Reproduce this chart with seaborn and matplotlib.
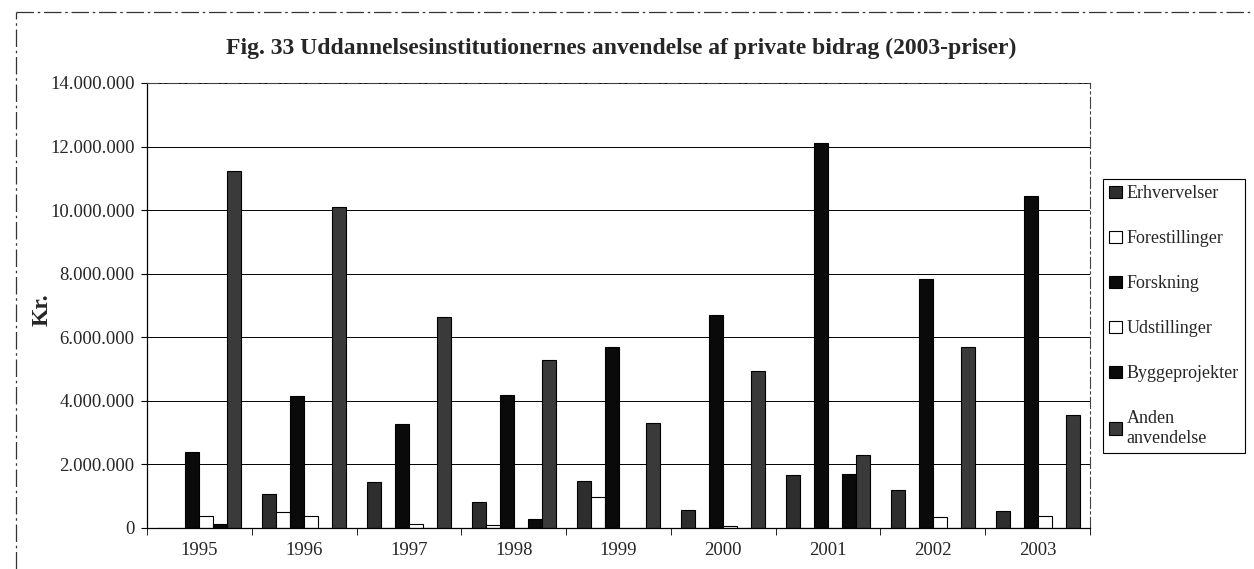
import seaborn as sns
import matplotlib.pyplot as plt
import matplotlib.ticker as mticker
from matplotlib.lines import Line2D
import pandas as pd
import numpy as np

# Values (kroner, 2003 prices)
years = ["1995", "1996", "1997", "1998", "1999", "2000", "2001", "2002", "2003"]
categories = ["Erhvervelser", "Forestillinger", "Forskning", "Udstillinger",
              "Byggeprojekter", "Anden\nanvendelse"]
erhvervelser = [0, 1060000, 1450000, 830000, 1480000, 560000, 1680000, 1190000, 530000]
forestillinger = [0, 500000, 0, 80000, 980000, 0, 0, 0, 0]
forskning = [2390000, 4160000, 3270000, 4200000, 5700000, 6710000, 12110000, 7830000, 10460000]
udstillinger = [380000, 370000, 120000, 0, 0, 60000, 0, 340000, 390000]
byggeprojekter = [120000, 0, 0, 270000, 0, 0, 1710000, 0, 0]
anden = [11220000, 10100000, 6650000, 5270000, 3300000, 4930000, 2310000, 5680000, 3570000]
yticks = [0, 2000000, 4000000, 6000000, 8000000, 10000000, 12000000, 14000000]

series = [erhvervelser, forestillinger, forskning, udstillinger, byggeprojekter, anden]
rows = []
for cat, vals in zip(categories, series):
    for yr, v in zip(years, vals):
        rows.append({"year": yr, "category": cat, "value": v})
df = pd.DataFrame(rows)

colors = ["#2e2e2e", "#ffffff", "#0a0a0a", "#ffffff", "#0a0a0a", "#3a3a3a"]

sns.set_style("white")
plt.rcParams["font.family"] = ["Liberation Serif", "DejaVu Serif"]

fig = plt.figure(figsize=(12.54, 5.69), dpi=100)
ax = fig.add_axes([147 / 1254, 1 - 528 / 569, (1090 - 147) / 1254, (528 - 83) / 569])

sns.barplot(data=df, x="year", y="value", hue="category", hue_order=categories,
            palette=colors, order=years, width=0.8, edgecolor="black",
            linewidth=0.8, saturation=1, ax=ax)

ax.set_ylim(0, 14000000)
ax.set_xlim(-0.5, 8.5)
ax.set_yticks(yticks)
ax.yaxis.set_major_formatter(
    mticker.FuncFormatter(lambda v, p: f"{int(v):,}".replace(",", ".")))
ax.set_xlabel("")
ax.set_ylabel("")
ax.set_axisbelow(True)
ax.yaxis.grid(True, color="black", linewidth=0.7)
ax.xaxis.grid(False)

for s in ["left", "bottom"]:
    ax.spines[s].set_color("black")
    ax.spines[s].set_linewidth(0.9)
for s in ["top", "right"]:
    ax.spines[s].set_color("#444444")
    ax.spines[s].set_linewidth(0.8)
    ax.spines[s].set_linestyle((0, (10, 3, 2, 3)))

ax.set_xticks(np.arange(-0.5, 9, 1), minor=True)
ax.tick_params(axis="x", which="major", length=0, pad=10, labelsize=13.5)
ax.tick_params(axis="x", which="minor", length=5, direction="out", color="black", bottom=True)
ax.tick_params(axis="y", which="major", length=4, direction="out", left=True,
               color="black", labelsize=13.5, pad=5)

fig.suptitle("Fig. 33 Uddannelsesinstitutionernes anvendelse af private bidrag (2003-priser)",
             x=621 / 1254, y=1 - 48 / 569, va="center", fontsize=17, fontweight="bold")
fig.text(42 / 1254, 1 - 310 / 569, "Kr.", rotation=90, ha="center", va="center",
         fontsize=17, fontweight="bold")

handles, labels = ax.get_legend_handles_labels()
ax.legend(handles, labels, loc="upper left",
          bbox_to_anchor=(1103 / 1254, 1 - 179 / 569), bbox_transform=fig.transFigure,
          frameon=True, fancybox=False, edgecolor="black", framealpha=1,
          fontsize=13, labelspacing=1.55, handlelength=0.7, handleheight=0.7,
          handletextpad=0.25, borderpad=0.35, borderaxespad=0)
ax.get_legend().get_frame().set_linewidth(0.8)

# scanned page frame around the chart
ls = (0, (14, 3, 2, 3))
fig.add_artist(Line2D([16 / 1254, 16 / 1254], [0, 1 - 12 / 569], transform=fig.transFigure,
                      color="#333333", linewidth=0.9, linestyle=ls))
fig.add_artist(Line2D([16 / 1254, 1], [1 - 12 / 569, 1 - 12 / 569], transform=fig.transFigure,
                      color="#333333", linewidth=0.9, linestyle=ls))

fig.savefig("out.png", dpi=100)
